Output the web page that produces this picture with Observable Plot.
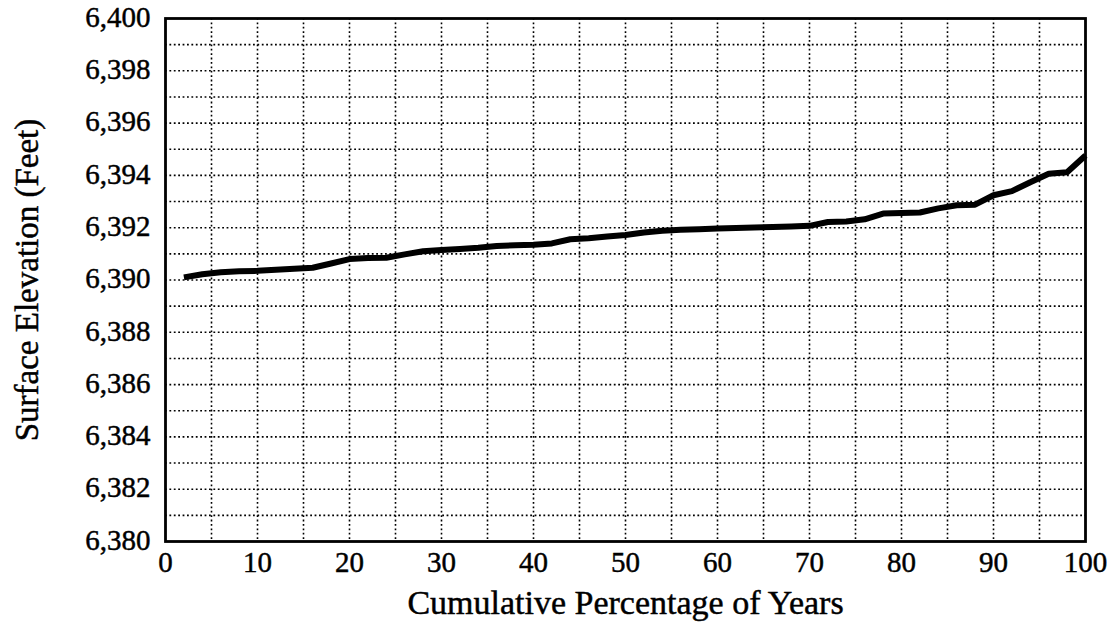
<!DOCTYPE html>
<html>
<head>
<meta charset="utf-8">
<script src="https://cdn.jsdelivr.net/npm/d3@7"></script>
<script src="https://cdn.jsdelivr.net/npm/@observablehq/plot@0.6"></script>
<style>
  html, body { margin: 0; padding: 0; background: #fff; }
  #chart svg { display: block; }
  #chart svg text { stroke: #000; stroke-width: 0.45px; }
</style>
</head>
<body>
<div id="chart"></div>
<script>
// Cumulative percentage of years (x) and surface elevation in feet (y)
const cumulativePct = [2, 4, 6, 8, 10, 12, 14, 16, 18, 20,
  22, 24, 26, 28, 30, 32, 34, 36, 38, 40,
  42, 44, 46, 48, 50, 52, 54, 56, 58, 60,
  62, 64, 66, 68, 70, 72, 74, 76, 78, 80,
  82, 84, 86, 88, 90, 92, 94, 96, 98, 100];
const elevationFt = [6390.10, 6390.22, 6390.30, 6390.33, 6390.35, 6390.39, 6390.43, 6390.47, 6390.63, 6390.80,
  6390.84, 6390.85, 6390.98, 6391.10, 6391.15, 6391.19, 6391.23, 6391.30, 6391.33, 6391.35,
  6391.40, 6391.56, 6391.60, 6391.66, 6391.72, 6391.82, 6391.88, 6391.92, 6391.94, 6391.97,
  6391.99, 6392.01, 6392.03, 6392.05, 6392.07, 6392.22, 6392.24, 6392.32, 6392.54, 6392.56,
  6392.58, 6392.74, 6392.86, 6392.88, 6393.24, 6393.40, 6393.74, 6394.06, 6394.12, 6394.76];

const xTickValues = [0, 10, 20, 30, 40, 50, 60, 70, 80, 90, 100];
const yTickValues = [6380, 6382, 6384, 6386, 6388, 6390, 6392, 6394, 6396, 6398, 6400];
const xGridValues = [5, 10, 15, 20, 25, 30, 35, 40, 45, 50, 55, 60, 65, 70, 75, 80, 85, 90, 95];
const yGridValues = [6381, 6382, 6383, 6384, 6385, 6386, 6387, 6388, 6389, 6390,
  6391, 6392, 6393, 6394, 6395, 6396, 6397, 6398, 6399];
const xTitle = "Cumulative Percentage of Years";
const yTitle = "Surface Elevation (Feet)";

const rows = cumulativePct.map((p, i) => ({pct: p, elev: elevationFt[i]}));

const fmt = d3.format(",");

const chart = Plot.plot({
  width: 1111,
  height: 633,
  marginLeft: 165,
  marginRight: 26,
  marginTop: 18,
  marginBottom: 92,
  style: {fontFamily: "'Liberation Serif', 'DejaVu Serif', serif", fontSize: "28px", color: "#000", background: "#fff"},
  x: {domain: [0, 100]},
  y: {domain: [6380, 6400]},
  marks: [
    Plot.gridX(xGridValues, {stroke: "#000", strokeOpacity: 1, strokeWidth: 1.6, strokeDasharray: "1.8,2.6"}),
    Plot.gridY(yGridValues, {stroke: "#000", strokeOpacity: 1, strokeWidth: 1.6, strokeDasharray: "1.8,2.6"}),
    Plot.frame({stroke: "#000", strokeWidth: 2.8}),
    Plot.line(rows, {x: "pct", y: "elev", stroke: "#000", strokeWidth: 6, strokeLinejoin: "round", strokeLinecap: "butt"}),
    Plot.axisX(xTickValues, {tickSize: 0, tickPadding: 10, label: null, fontSize: 29}),
    Plot.axisY(yTickValues, {tickSize: 0, tickPadding: 15, tickFormat: fmt, label: null, fontSize: 29, dy: -1}),
    Plot.text([xTitle], {frameAnchor: "bottom", textAnchor: "middle", dy: 72, fontSize: 34, fill: "#000"}),
    Plot.text([yTitle], {frameAnchor: "left", textAnchor: "middle", dx: -138, rotate: -90, fontSize: 33, fill: "#000"})
  ]
});

document.getElementById("chart").appendChild(chart);
</script>
</body>
</html>
